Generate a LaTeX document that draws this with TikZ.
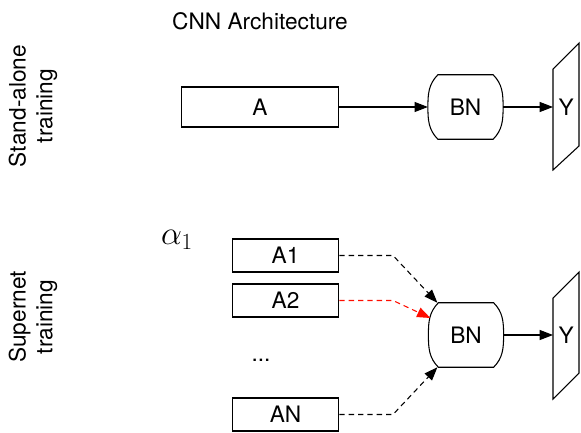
\documentclass[tikz,border=0pt]{standalone}
\usepackage{fontspec}
\setmainfont{TeX Gyre Heros}
\usetikzlibrary{positioning}
\usetikzlibrary{calc}
\usetikzlibrary{arrows.meta}

\tikzset{
    layer/.style={draw, line width=0.8pt, minimum width=80pt, minimum height=24.75pt, inner sep=0pt},
    bnorm/.style={minimum width=56pt, minimum height=48pt, inner sep=0pt},
    tip/.style={-{Triangle[length=10pt,width=7.5pt]}, line width=0.8pt},
    dashtip/.style={tip, dash pattern=on 4pt off 3pt},
    side/.style={rotate=90, align=center}
}
% outline of a BN node: flat top and bottom, bulging sides
\newcommand{\bnshape}[1]{
    \draw[line width=0.8pt] ($(#1.north west)+(10,0)$) -- ($(#1.north east)+(-10,0)$)
        to[out=-45,in=90] (#1.east) to[out=-90,in=45] ($(#1.south east)+(-10,0)$)
        -- ($(#1.south west)+(10,0)$)
        to[out=135,in=-90] (#1.west) to[out=90,in=-135] cycle;
}

\begin{document}
\begin{tikzpicture}[x=0.75pt, y=-0.75pt, font=\fontsize{17}{20}\selectfont]
            \useasboundingbox (0,0) rectangle (581,432);

            \node (title) at (260,21) {CNN Architecture};

            % stand-alone
            \node[side] (lbltop) at (33,106) {Stand-alone\\training};
            \node[layer, minimum width=117.75pt, minimum height=30pt] (A) at (260,107) {A};
            \node[bnorm] (BNtop) at (465.5,107) {BN};
            \bnshape{BNtop}
            \node[inner sep=0pt, minimum width=19.5pt, minimum height=20pt, anchor=west] (Ytop) at (553,107) {Y};
            \draw[line width=0.8pt] (553,69) -- (579,43) -- (579,146) -- (553,170) -- cycle;
            \draw[tip] (A) -- (BNtop);
            \draw[tip] (BNtop) -- (Ytop);

            % supernet
            \node[side] (lblbot) at (33,317) {Supernet\\training};
            \node[font=\fontsize{24}{26}\selectfont] (alpha) at (177,240) {$\alpha_1$};
            \node[layer] (A1) at (285.5,255.5) {A1};
            \node[layer] (A2) at (285.5,300.5) {A2};
            \node (dots) at (261,360) {...};
            \node[layer] (AN) at (285.5,414.5) {AN};
            \node[bnorm] (BNbot) at (466,335) {BN};
            \bnshape{BNbot}
            \node[inner sep=0pt, minimum width=19.5pt, minimum height=20pt, anchor=west] (Ybot) at (553,335) {Y};
            \draw[line width=0.8pt] (553,298) -- (579,272) -- (579,373) -- (553,399) -- cycle;

            \draw[dashtip] (A1.east) -- (393,255.5) -- ($(BNbot.north west)+(9,0)$);
            \draw[dashtip, red!90!orange] (A2.east) -- (393,300.5) -- ($(BNbot.west)+(2,-17)$);
            \draw[dashtip] (AN.east) -- (393,414.5) -- ($(BNbot.south west)+(9,0)$);
            \draw[tip] (BNbot) -- (Ybot);
        \end{tikzpicture}
\end{document}
